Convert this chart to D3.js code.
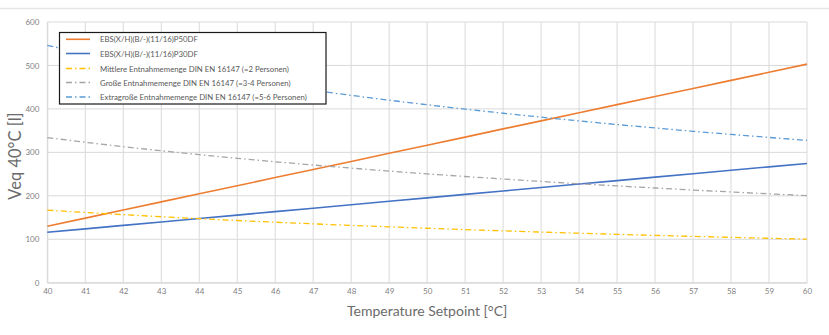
<!DOCTYPE html>
<html><head><meta charset="utf-8">
<script src="https://cdn.jsdelivr.net/npm/d3@7"></script>
<style>body{margin:0;background:#fff}svg{display:block}text{font-family:Lato,"Open Sans",sans-serif}</style>
</head><body>
<script>
const temps = [40,41,42,43,44,45,46,47,48,49,50,51,52,53,54,55,56,57,58,59,60];
const p50 = [130,148.6,167.3,186,204.6,223,242,260.5,279,298,316.5,335,354,372.5,391,409.8,428.4,447,465.7,484.3,503];
const p30 = [116,123.9,131.9,139.8,147.7,155.6,163.6,171.5,179.4,187.4,195.3,203.2,211.1,219.1,227,234.9,242.9,250.8,258.7,266.6,274.5];
const mittlere = [167,161.6,156.6,151.8,147.4,143.1,139.2,135.4,131.8,128.5,125.3,122.2,119.3,116.5,113.9,111.3,108.9,106.6,104.4,102.2,100.2];
const grosse = [334,323.2,313.1,303.6,294.7,286.3,278.3,270.8,263.7,256.9,250.5,244.4,238.6,233.0,227.7,222.7,217.9,213.2,208.8,204.5,200.4];
const extra = [546,528.4,511.9,496.4,481.8,468.0,455.0,442.7,431.1,420.0,409.5,399.5,390.0,380.9,372.3,364.0,356.1,348.5,341.3,334.3,327.6];
const seriesNames = ["EBS(X/H)(B/-)(11/16)P50DF","EBS(X/H)(B/-)(11/16)P30DF","Mittlere Entnahmemenge DIN EN 16147 (=2 Personen)","Große Entnahmemenge DIN EN 16147 (=3-4 Personen)","Extragroße Entnahmemenge DIN EN 16147 (=5-6 Personen)"];
const yTicks = [0,100,200,300,400,500,600];
const xLabel = "Temperature Setpoint [°C]";
const yLabel = "Veq 40°C [l]";

const series = [
  {name:seriesNames[0], values:p50, color:"#ED7D31", dash:null, w:1.6},
  {name:seriesNames[1], values:p30, color:"#4472C4", dash:null, w:1.6},
  {name:seriesNames[2], values:mittlere, color:"#FFC000", dash:"6,3,1.5,3", w:1.3},
  {name:seriesNames[3], values:grosse, color:"#A5A5A5", dash:"6,3,1.5,3", w:1.3},
  {name:seriesNames[4], values:extra, color:"#5B9BD5", dash:"6,3,1.5,3", w:1.3}
];

const W=829,H=335;
const svg=d3.select("body").append("svg").attr("width",W).attr("height",H);
svg.append("line").attr("x1",0).attr("x2",W).attr("y1",8.5).attr("y2",8.5).attr("stroke","#e6e6e6").attr("stroke-width",1.5);

const x=d3.scaleLinear().domain([40,60]).range([47.3,807]);
const y=d3.scaleLinear().domain([0,600]).range([282.7,22]);

// grid
const g=svg.append("g");
g.selectAll(".vg").data(temps).join("line")
 .attr("x1",d=>x(d)).attr("x2",d=>x(d)).attr("y1",y(0)).attr("y2",y(600))
 .attr("stroke","#d9d9d9").attr("stroke-width",1);
g.selectAll(".hg").data(yTicks).join("line")
 .attr("x1",x(40)).attr("x2",x(60)).attr("y1",d=>y(d)).attr("y2",d=>y(d))
 .attr("stroke","#d9d9d9").attr("stroke-width",1);

// axes
const xAxis=d3.axisBottom(x).tickValues(temps).tickSize(0).tickPadding(6).tickFormat(d3.format("d"));
const xa=svg.append("g").attr("transform",`translate(0,${y(0)})`).call(xAxis);
xa.select(".domain").attr("stroke","#d9d9d9");
xa.selectAll("text").attr("fill","#7f7f7f").attr("font-size",8);
const yAxis=d3.axisLeft(y).tickValues(yTicks).tickSize(0).tickPadding(8);
const ya=svg.append("g").attr("transform",`translate(${x(40)},0)`).call(yAxis);
ya.select(".domain").attr("stroke","#d9d9d9");
ya.selectAll("text").attr("fill","#7f7f7f").attr("font-size",8);

// lines
const line=d3.line().x((d,i)=>x(temps[i])).y(d=>y(d));
series.forEach(s=>{
  svg.append("path").datum(s.values).attr("d",line).attr("fill","none")
   .attr("stroke",s.color).attr("stroke-width",s.w)
   .attr("stroke-dasharray",s.dash);
});

// titles
svg.append("text").attr("x",(x(40)+x(60))/2).attr("y",316).attr("text-anchor","middle")
 .attr("font-size",14).attr("fill","#6b6b6b").text(xLabel);
svg.append("text").attr("transform","translate(21,156) rotate(-90)").attr("text-anchor","middle")
 .attr("font-size",16.5).attr("fill","#6b6b6b").text(yLabel);

// legend
const lg=svg.append("g");
lg.append("rect").attr("x",59.5).attr("y",32.5).attr("width",266.5).attr("height",71.5)
 .attr("fill","#fff").attr("stroke","#1a1a1a").attr("stroke-width",1.2);
const rowY=[39.3,53.5,68.5,82.5,97];
series.forEach((s,i)=>{
  lg.append("line").attr("x1",66).attr("x2",90).attr("y1",rowY[i]).attr("y2",rowY[i])
   .attr("stroke",s.color).attr("stroke-width",s.w).attr("stroke-dasharray",s.dash);
  lg.append("text").attr("x",100).attr("y",rowY[i]+3).attr("font-size",7.8).attr("fill","#595959").text(s.name);
});
</script>
</body></html>
